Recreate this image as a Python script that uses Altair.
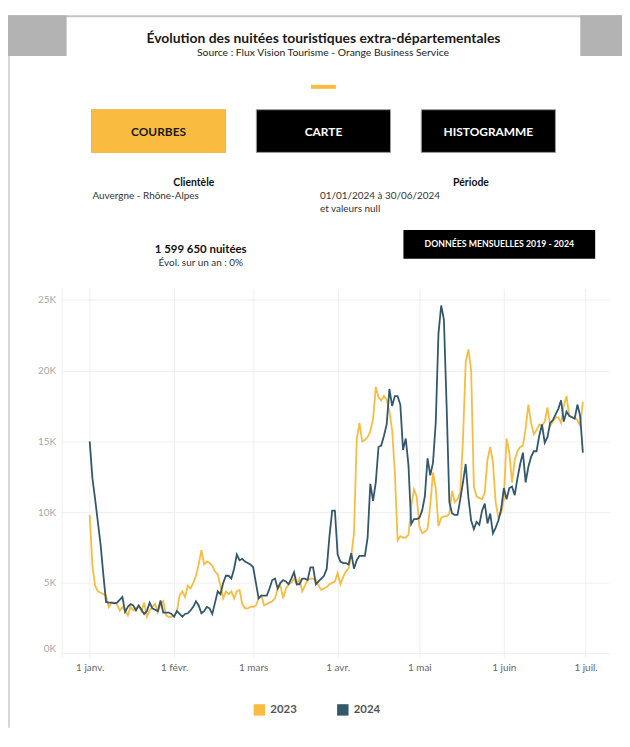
import json
import altair as alt
import pandas as pd

FONT = "Lato"

# ---------------- texts ----------------
TITLE = "Évolution des nuitées touristiques extra-départementales"
SUBTITLE = "Source : Flux Vision Tourisme - Orange Business Service"
BUTTONS = ["COURBES", "CARTE", "HISTOGRAMME"]
CLIENT_LABEL = "Clientèle"
CLIENT_VALUE = "Auvergne - Rhône-Alpes"
PERIOD_LABEL = "Période"
PERIOD_LINES = ["01/01/2024 à 30/06/2024", "et valeurs null"]
TOTAL_TEXT = "1 599 650 nuitées"
EVOL_TEXT = "Évol. sur un an : 0%"
MONTHLY_BUTTON = "DONNÉES MENSUELLES 2019 - 2024"

# ---------------- data ----------------
YEARS = ["2023", "2024"]
COLORS = ["#F9BC41", "#33586B"]
START_DATE = "2024-01-01"

# daily nuitées, in thousands (1 Jan -> 30 Jun)
VALUES_2023 = [
    9.8, 6.2, 4.8, 4.4, 4.3, 4.2, 4.1, 3.3, 3.6, 3.6,
    3.5, 3.05, 3.3, 3.05, 2.7, 3.3, 3.05, 3.2, 3.4, 3.0,
    3.6, 2.6, 3.05, 3.3, 3.5, 2.9, 3.5, 3.7, 2.7, 2.6,
    2.6, 2.7, 3.0, 4.1, 4.4, 4.0, 4.8, 4.6, 5.0, 5.5,
    6.3, 7.3, 6.3, 6.5, 6.4, 6.2, 5.8, 5.6, 4.8, 3.9,
    4.4, 4.2, 4.4, 3.9, 4.4, 4.5, 3.5, 3.2, 3.2, 3.3,
    3.3, 3.4, 3.9, 4.1, 3.4, 3.5, 3.6, 3.7, 3.9, 4.6,
    4.8, 3.9, 4.6, 4.9, 5.0, 5.3, 4.9, 5.3, 4.4, 4.8,
    5.2, 5.3, 5.3, 5.2, 4.8, 4.5, 4.6, 4.7, 4.9, 5.0,
    5.1, 5.7, 4.9, 5.4, 5.8, 6.0, 6.9, 8.5, 15.1, 16.3,
    15.0, 15.1, 15.3, 15.7, 16.6, 18.85, 18.1, 17.9, 18.2, 17.95,
    17.1, 15.8, 12.8, 8.0, 8.3, 8.2, 8.2, 8.4, 10.4, 11.6,
    11.1, 9.0, 8.5, 8.6, 8.8, 10.5, 12.8, 11.7, 9.0, 9.6,
    9.7, 9.7, 9.9, 11.5, 10.7, 10.9, 11.4, 15.1, 20.6, 21.5,
    20.0, 11.8, 11.1, 11.0, 10.9, 11.4, 13.7, 14.6, 13.5, 10.7,
    9.6, 9.9, 10.9, 15.2, 14.2, 12.1, 13.7, 14.3, 14.6, 14.7,
    15.9, 17.6, 16.3, 15.5, 15.8, 16.2, 16.1, 16.4, 17.4, 16.1,
    16.4, 16.7, 16.7, 16.3, 17.5, 18.2, 16.8, 16.7, 16.7, 16.5,
    16.1, 17.8,
]
VALUES_2024 = [
    15.0, 12.4, 10.9, 9.3, 7.7, 5.6, 3.65, 3.6, 3.6, 3.55,
    3.6, 3.8, 4.0, 2.95, 3.3, 3.5, 3.4, 3.05, 3.4, 3.1,
    2.8, 3.0, 3.6, 3.2, 3.1, 3.0, 3.75, 2.9, 2.9, 2.9,
    2.8, 2.6, 3.0, 2.8, 2.6, 2.8, 2.85, 3.05, 3.3, 3.7,
    3.4, 2.85, 3.0, 3.3, 3.2, 2.8, 3.6, 4.4, 4.2, 5.0,
    5.5, 5.5, 5.3, 6.0, 7.0, 6.6, 6.7, 6.5, 6.4, 6.3,
    6.1, 5.0, 3.9, 4.1, 4.1, 4.1, 4.6, 5.2, 5.3, 4.6,
    5.0, 5.2, 5.1, 4.9, 5.3, 5.75, 4.9, 4.9, 5.3, 5.3,
    5.2, 6.1, 6.1, 4.9, 5.1, 5.3, 5.5, 6.0, 8.3, 10.1,
    10.1, 7.0, 6.5, 6.4, 6.4, 6.3, 7.1, 6.0, 6.6, 6.9,
    6.9, 6.9, 8.2, 12.0, 10.8, 12.1, 14.6, 14.7, 15.4, 16.2,
    18.7, 17.5, 18.2, 18.2, 17.6, 14.4, 15.2, 13.3, 9.15, 9.5,
    9.5, 9.6, 10.1, 11.1, 13.8, 12.6, 13.5, 16.3, 22.6, 24.6,
    23.6, 17.5, 10.7, 9.9, 9.8, 9.8, 10.9, 12.1, 13.4, 11.0,
    9.4, 8.8, 9.3, 9.1, 10.1, 10.6, 9.2, 9.9, 8.5, 8.9,
    9.4, 10.2, 11.7, 10.9, 11.7, 11.8, 11.2, 12.4, 13.4, 14.2,
    12.1, 13.2, 13.9, 14.3, 14.3, 15.4, 16.2, 14.9, 15.3, 16.3,
    16.5, 16.9, 17.3, 17.9, 16.4, 17.1, 16.8, 16.7, 16.6, 17.6,
    16.8, 14.2,
]

MONTH_TICKS = ["2024-01-01", "2024-02-01", "2024-03-01", "2024-04-01",
               "2024-05-01", "2024-06-01", "2024-07-01"]
MONTH_LABELS = ["janv.", "févr.", "mars", "avr.", "mai", "juin", "juil."]
Y_TICKS = [0, 5, 10, 15, 20, 25]

# ---------------- table ----------------
n = len(VALUES_2024)
dates = list(pd.date_range(START_DATE, periods=n, freq="D").strftime("%Y-%m-%d"))
df = pd.DataFrame({
    "date": dates + dates,
    "value": VALUES_2023 + VALUES_2024,
    "year": [YEARS[0]] * n + [YEARS[1]] * n,
})

# plot-area origin in page pixels (used to place the dashboard decorations)
OX, OY = 62, 288


def px(x):
    return x - OX


def py(y):
    return y - OY


def rect(x1, y1, x2, y2, fill, stroke=None):
    kw = dict(fill=fill)
    if stroke:
        kw.update(stroke=stroke, strokeWidth=1)
    else:
        kw.update(strokeWidth=0)
    return alt.Chart(alt.Data(values=[{}])).mark_rect(**kw).encode(
        x=alt.value(px(x1)), x2=alt.value(px(x2)),
        y=alt.value(py(y1)), y2=alt.value(py(y2)),
    )


def label(text, x, y, size, weight="normal", color="#333333", align="center"):
    return alt.Chart(pd.DataFrame({"t": [text]})).mark_text(
        font=FONT, fontSize=size, fontWeight=weight, color=color,
        align=align, baseline="middle",
    ).encode(x=alt.value(px(x)), y=alt.value(py(y)), text="t:N")


def dt(s, hours=0):
    y, m, d = (int(v) for v in s.split("-"))
    return alt.DateTime(year=y, month=m, date=d, hours=hours, utc=True)


deco = [
    rect(8, 13, 10, 730, "#d6d6d6"),
    rect(8, 13, 626, 15, "#c4c4c4"),
    rect(8, 13, 67, 54, "#b3b3b3"),
    rect(584, 13, 626, 54, "#b3b3b3"),
    label(TITLE, 325.5, 37, 14, "bold", "#1a1a1a"),
    label(SUBTITLE, 325, 51, 10.4, "normal", "#222222"),
    rect(313, 83, 338, 87, COLORS[0]),
    rect(92, 108, 227, 151, COLORS[0], "#e6b84a"),
    rect(258, 108, 393, 151, "#000000", "#9a9a9a"),
    rect(424, 108, 559, 151, "#000000", "#9a9a9a"),
    label(BUTTONS[0], 159.5, 130, 12, "bold", "#1a1a1a"),
    label(BUTTONS[1], 325.5, 130, 12, "bold", "#ffffff"),
    label(BUTTONS[2], 491.5, 130, 12, "bold", "#ffffff"),
    label(CLIENT_LABEL, 195, 182, 10.5, "bold", "#111111"),
    label(CLIENT_VALUE, 93, 195, 10, "normal", "#333333", "left"),
    label(PERIOD_LABEL, 474, 182, 10.5, "bold", "#111111"),
    label(PERIOD_LINES[0], 322, 195, 10, "normal", "#333333", "left"),
    label(PERIOD_LINES[1], 322, 208, 10, "normal", "#333333", "left"),
    label(TOTAL_TEXT, 202, 249, 11.5, "bold", "#111111"),
    label(EVOL_TEXT, 202, 262, 10, "normal", "#333333"),
    rect(406, 229, 599, 258, "#000000"),
    label(MONTHLY_BUTTON, 502.5, 243.5, 8.8, "bold", "#ffffff"),
]

label_expr_x = "'1 ' + " + json.dumps(MONTH_LABELS, ensure_ascii=False) + "[utcmonth(datum.value)]"

color_scale = alt.Scale(domain=YEARS, range=COLORS)

lines = alt.Chart(df).mark_line(strokeWidth=1.8).encode(
    x=alt.X(
        "date:T",
        scale=alt.Scale(type="utc", domain=[dt("2023-12-21", 17), dt("2024-07-09", 15)]),
        axis=alt.Axis(
            title=None, values=[dt(s) for s in MONTH_TICKS], labelExpr=label_expr_x,
            grid=True, gridColor="#efefef", gridWidth=1, ticks=False, domain=False,
            labelFont=FONT, labelFontSize=10, labelColor="#666666", labelPadding=5,
        ),
    ),
    y=alt.Y(
        "value:Q",
        scale=alt.Scale(domain=[-0.25, 25.8], nice=False, zero=False),
        axis=alt.Axis(
            title=None, values=Y_TICKS, labelExpr="datum.value + 'K'",
            grid=True, gridColor="#efefef", gridWidth=1, ticks=False,
            domain=True, domainColor="#efefef", domainWidth=1,
            labelFont=FONT, labelFontSize=10, labelColor="#a6a6a6", labelPadding=6,
            labelFlush=5,
        ),
    ),
    color=alt.Color("year:N", scale=color_scale, legend=None),
)

# legend carrier: filled squares, no visible marks (all rows filtered out)
legend_layer = alt.Chart(df).transform_filter("false").mark_square(filled=True, size=121).encode(
    color=alt.Color(
        "year:N",
        scale=color_scale,
        legend=alt.Legend(
            title=None, orient="none", legendX=193, legendY=418, direction="horizontal",
            symbolType="square", symbolSize=132, symbolStrokeWidth=0, symbolOpacity=1,
            padding=0, columnPadding=40, labelOffset=5, labelFont=FONT, labelFontSize=11.5,
            labelFontWeight="bold", labelColor="#555555",
        ),
    ),
)

chart = alt.layer(*deco, lines, legend_layer).resolve_legend(color="independent").properties(
    width=551, height=371,
    padding={"left": 0, "top": 5, "right": 0, "bottom": 0},
).configure_view(stroke=None)

chart.save("out.html", embed_options={"renderer": "svg", "actions": False})
